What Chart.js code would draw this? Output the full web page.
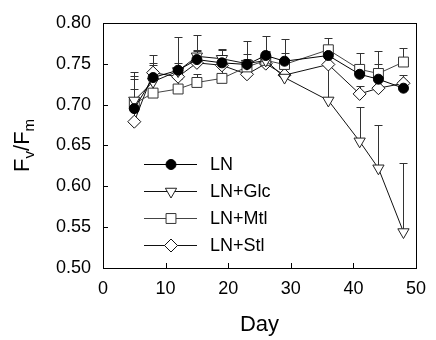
<!DOCTYPE html>
<html>
<head>
<meta charset="utf-8">
<script src="https://cdn.jsdelivr.net/npm/chart.js@4.4.1/dist/chart.umd.min.js"></script>
<style>
html,body{margin:0;padding:0;background:#fff}
#wrap{width:436px;height:340px}
</style>
</head>
<body>
<div id="wrap"><canvas id="c" width="436" height="340"></canvas></div>
<script>
// days of measurement
const days = [5, 8, 12, 15, 19, 23, 26, 29, 36, 41, 44, 48];

// Fv/Fm per treatment
const fvLN  = [0.695, 0.733, 0.742, 0.755, 0.751, 0.749, 0.760, 0.753, 0.760, 0.737, 0.731, 0.720];
const fvGlc = [0.705, 0.728, 0.741, 0.759, 0.756, 0.750, 0.754, 0.733, 0.705, 0.655, 0.622, 0.544];
const fvMtl = [0.701, 0.714, 0.719, 0.727, 0.732, 0.746, 0.754, 0.749, 0.767, 0.743, 0.738, 0.752];
const fvStl = [0.679, 0.739, 0.734, 0.751, 0.748, 0.737, 0.750, 0.736, 0.749, 0.713, 0.720, 0.726];

// upper error bars (SD)
const sdLN  = [0.040, 0.018, 0.041, 0.012, 0.016, 0.029, 0.024, 0.010, 0.012, 0.008, 0.019, 0.010];
const sdGlc = [0.035, 0.020, 0.010, 0.026, 0.012, 0.012, 0.012, 0.012, 0.045, 0.042, 0.053, 0.084];
const sdMtl = [0.030, 0.020, 0.012, 0.010, 0.028, 0.010, 0.010, 0.031, 0.015, 0.020, 0.027, 0.017];
const sdStl = [0.040, 0.022, 0.012, 0.014, 0.012, 0.012, 0.010, 0.012, 0.010, 0.010, 0.010, 0.010];

const labels = ['LN', 'LN+Glc', 'LN+Mtl', 'LN+Stl'];

const yTicks = [0.50, 0.55, 0.60, 0.65, 0.70, 0.75, 0.80];
const xTicks = [0, 10, 20, 30, 40, 50];

const FONT = '"Liberation Sans", Arial, Helvetica, sans-serif';

function ser(label, vals, sd, o){
  return Object.assign({
    label, sd,
    data: days.map((d,i)=>({x:d, y:vals[i]})),
    borderWidth: 1, pointBorderWidth: 1, tension: 0, clip: false
  }, o);
}

const datasets = [
  ser(labels[0], fvLN, sdLN, {borderColor:'#000', pointBackgroundColor:'#000', pointBorderColor:'#000',
    pointStyle:'circle', pointRadius:5}),
  ser(labels[1], fvGlc, sdGlc, {borderColor:'#111', pointBackgroundColor:'#fff', pointBorderColor:'#222',
    pointStyle:'triangle', pointRotation:180, pointRadius:6.5}),
  ser(labels[2], fvMtl, sdMtl, {borderColor:'#444', pointBackgroundColor:'#fff', pointBorderColor:'#333',
    pointStyle:'rect', pointRadius:7}),
  ser(labels[3], fvStl, sdStl, {borderColor:'#111', pointBackgroundColor:'#fff', pointBorderColor:'#111',
    pointStyle:'rectRot', pointRadius:6.5})
];

// error bars, frame, inner ticks, legend and y title
const decor = {
  id:'decor',
  beforeDatasetsDraw(chart){
    const ctx = chart.ctx, xs = chart.scales.x, ys = chart.scales.y;
    ctx.save();
    ctx.strokeStyle = '#333'; ctx.lineWidth = 1;
    chart.data.datasets.forEach(ds=>{
      ds.data.forEach((p,i)=>{
        const e = ds.sd[i]; if(!e) return;
        const x = Math.round(xs.getPixelForValue(p.x)) + 0.5;
        const y0 = ys.getPixelForValue(p.y), y1 = Math.round(ys.getPixelForValue(p.y + e)) + 0.5;
        ctx.beginPath();
        ctx.moveTo(x, y0); ctx.lineTo(x, y1);
        ctx.moveTo(x-4, y1); ctx.lineTo(x+4, y1);
        ctx.stroke();
      });
    });
    ctx.restore();
  },
  afterDraw(chart){
    const ctx = chart.ctx, a = chart.chartArea, xs = chart.scales.x, ys = chart.scales.y;
    ctx.save();
    ctx.strokeStyle = '#000'; ctx.lineWidth = 1;
    ctx.strokeRect(Math.round(a.left)+0.5, Math.round(a.top)+0.5, Math.round(a.right-a.left), Math.round(a.bottom-a.top));
    ctx.beginPath();
    xTicks.forEach(v=>{
      const x = Math.round(xs.getPixelForValue(v)) + 0.5;
      ctx.moveTo(x, a.bottom); ctx.lineTo(x, a.bottom-5);
    });
    yTicks.forEach(v=>{
      const y = Math.round(ys.getPixelForValue(v)) + 0.5;
      ctx.moveTo(a.left, y); ctx.lineTo(a.left+5, y);
    });
    ctx.stroke();

    // legend
    const ly = [164, 191, 218, 245];
    ctx.font = '18px ' + FONT;
    ctx.textBaseline = 'middle'; ctx.textAlign = 'left';
    chart.data.datasets.forEach((ds,k)=>{
      const y = ly[k];
      ctx.strokeStyle = ds.borderColor; ctx.lineWidth = 1;
      ctx.beginPath(); ctx.moveTo(144, y+0.5); ctx.lineTo(197, y+0.5); ctx.stroke();
      ctx.fillStyle = ds.pointBackgroundColor; ctx.strokeStyle = ds.pointBorderColor;
      Chart.helpers.drawPoint(ctx, {pointStyle:ds.pointStyle, rotation:ds.pointRotation||0,
        radius:ds.pointRadius, borderWidth:1}, 171, y+0.5);
      ctx.fillStyle = '#000';
      ctx.fillText(ds.label, 210, y+1);
    });

    // y title F_v/F_m
    const big = '22px ' + FONT, small = '15px ' + FONT;
    const parts = [['F',big,0],['v',small,5],['/',big,0],['F',big,0],['m',small,5]];
    let w = 0;
    parts.forEach(p=>{ ctx.font = p[1]; w += ctx.measureText(p[0]).width; });
    ctx.translate(28.5, (a.top+a.bottom)/2);
    ctx.rotate(-Math.PI/2);
    ctx.textBaseline = 'alphabetic'; ctx.fillStyle = '#000';
    let x = -w/2;
    parts.forEach(p=>{ ctx.font = p[1]; ctx.fillText(p[0], x, p[2]); x += ctx.measureText(p[0]).width; });
    ctx.restore();
  }
};

new Chart(document.getElementById('c'), {
  type:'line',
  data:{datasets},
  options:{
    responsive:false, animation:false, devicePixelRatio:1,
    layout:{padding:{left:0, top:18, right:12, bottom:0}},
    plugins:{legend:{display:false}, tooltip:{enabled:false}},
    scales:{
      x:{type:'linear', min:0, max:50,
        afterBuildTicks(s){ s.ticks = xTicks.map(v=>({value:v})); },
        afterFit(s){ s.height = 72; },
        grid:{display:false, drawTicks:false}, border:{display:false},
        ticks:{padding:10, color:'#000', font:{family:FONT, size:18}},
        title:{display:true, text:'Day', color:'#000', font:{family:FONT, size:22}, padding:{top:0, bottom:2}}
      },
      y:{type:'linear', min:0.5, max:0.8,
        afterBuildTicks(s){ s.ticks = yTicks.map(v=>({value:v})); },
        afterFit(s){ s.width = 103; },
        grid:{display:false, drawTicks:false}, border:{display:false},
        ticks:{padding:12, color:'#000', font:{family:FONT, size:18}, callback:v=>v.toFixed(2)}
      }
    }
  },
  plugins:[decor]
});
</script>
</body>
</html>
